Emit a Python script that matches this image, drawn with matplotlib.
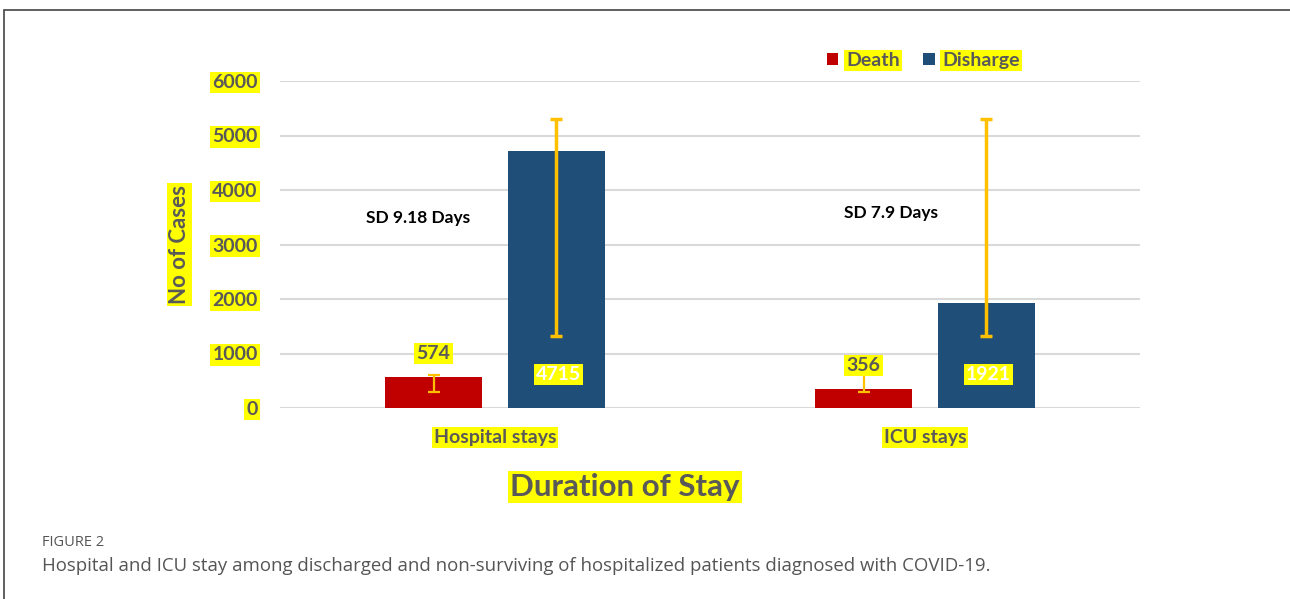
import matplotlib.pyplot as plt
from matplotlib.patches import Rectangle

# data
groups = ["Hospital stays", "ICU stays"]
death = [574, 356]
discharge = [4715, 1921]
death_err_low = [280, 62]
death_err_high = [31, 270]
disch_err_low = [3394, 600]
disch_err_high = [588, 3382]
sd_notes = ["SD 9.18 Days", "SD 7.9 Days"]
yticks = [0, 1000, 2000, 3000, 4000, 5000, 6000]

RED = "#C00000"
BLUE = "#1F4E79"
ERR = "#FFC000"
GREY = "#595959"
HL = dict(facecolor="#FFFF00", edgecolor="none", pad=1.5)

plt.rcParams["font.family"] = ["Lato", "DejaVu Sans"]

fig = plt.figure(figsize=(12.9, 5.99), dpi=100)
ax = fig.add_axes([280 / 1290, 1 - 408 / 599, 860 / 1290, 327 / 599])

x = [0, 1]
w = 0.2256
off = 0.143
xd = [i - off for i in x]
xb = [i + off for i in x]

ax.bar(xd, death, width=w, color=RED, zorder=2, label="Death")
ax.bar(xb, discharge, width=w, color=BLUE, zorder=2, label="Disharge")
ax.errorbar(xd, death, yerr=[death_err_low, death_err_high], fmt="none",
            ecolor=ERR, elinewidth=1.6, capsize=4, capthick=1.6, zorder=3)
ax.errorbar(xb, discharge, yerr=[disch_err_low, disch_err_high], fmt="none",
            ecolor=ERR, elinewidth=2.5, capsize=4, capthick=2.5, zorder=3)

ax.set_xlim(-0.5, 1.5)
ax.set_ylim(0, 6000)
ax.set_yticks(yticks)
ax.set_yticklabels([str(v) for v in yticks])
ax.grid(axis="y", color="#D9D9D9", lw=1.5, zorder=0)
ax.set_axisbelow(True)
for s in ax.spines.values():
    s.set_visible(False)
ax.tick_params(axis="both", length=0)
ax.tick_params(axis="y", pad=16)
for t in ax.get_yticklabels():
    t.set_fontsize(14)
    t.set_fontweight("bold")
    t.set_color(GREY)
    t.set_bbox(HL)
ax.set_xticks(x)
ax.set_xticklabels(groups, fontsize=14, fontweight="bold", color=GREY)
ax.tick_params(axis="x", pad=15)
for t in ax.get_xticklabels():
    t.set_bbox(HL)

# bar value labels
for xi, v in zip(xd, death):
    ax.text(xi, v + 420, str(v), ha="center", va="center", fontsize=14,
            fontweight="bold", color=GREY, bbox=HL, zorder=4)
for xi, v in zip(xb, discharge):
    ax.text(xi + 0.005, 620, str(v), ha="center", va="center", fontsize=14,
            fontweight="bold", color="white", bbox=HL, zorder=4)

# SD notes
ax.text(-0.179, 3480, sd_notes[0], ha="center", va="center", fontsize=12.5,
        fontweight="bold", color="black")
ax.text(0.921, 3570, sd_notes[1], ha="center", va="center", fontsize=12.5,
        fontweight="bold", color="black")

ax.set_ylabel("No of Cases", fontsize=16, fontweight="bold", color=GREY,
              bbox=HL, labelpad=16)

leg = ax.legend(loc="center", bbox_to_anchor=(0.748, 1.063), ncol=2,
                frameon=False, fontsize=14, handlelength=0.6,
                handleheight=0.6, handletextpad=0.4, columnspacing=1.2)
for t in leg.get_texts():
    t.set_fontweight("bold")
    t.set_color(GREY)
    t.set_bbox(HL)

fig.text(625 / 1290, 1 - 487 / 599, "Duration of Stay", ha="center",
         va="center", fontsize=22.5, fontweight="bold", color=GREY, bbox=HL)

# caption and frame
fig.text(42 / 1290, 1 - 543 / 599, "FIGURE 2", ha="left", va="center",
         fontsize=10.5, color="#555555", family="Open Sans")
fig.text(42 / 1290, 1 - 566 / 599,
         "Hospital and ICU stay among discharged and non-surviving of "
         "hospitalized patients diagnosed with COVID-19.",
         ha="left", va="center", fontsize=13.4, color="#555555",
         family="Open Sans")
fig.patches.append(Rectangle((4 / 1290, -0.1), 1.1, 1 - 10 / 599 + 0.1,
                             transform=fig.transFigure, fill=False,
                             edgecolor="#444444", lw=1.2))

fig.savefig("out.png", dpi=100)
